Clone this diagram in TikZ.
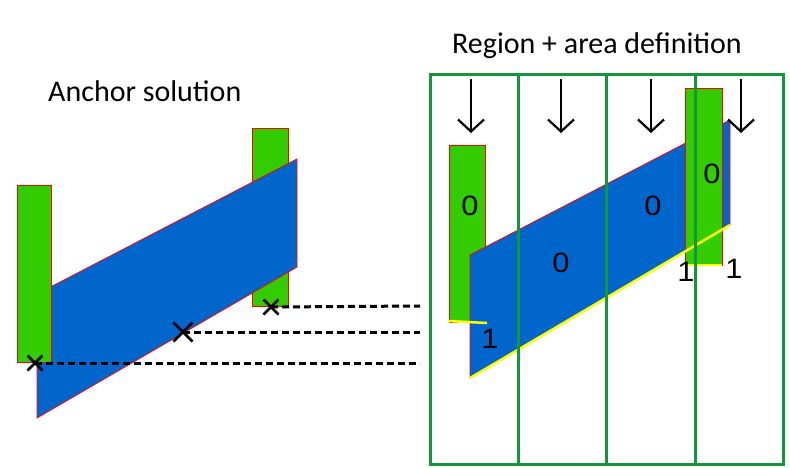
\documentclass[tikz,border=0pt]{standalone}
\usepackage{fontspec}
\setmainfont{Carlito}
\newfontfamily\digitfont[FakeStretch=1.1]{Liberation Sans}
\usetikzlibrary{arrows.meta}
\definecolor{bargreen}{RGB}{51,204,0}
\definecolor{planeblue}{RGB}{0,102,204}
\definecolor{gridgreen}{RGB}{20,150,60}
\definecolor{edgeyellow}{RGB}{255,255,0}
\tikzset{
  bar/.style={fill=bargreen, draw=red, line width=0.8pt},
  plane/.style={fill=planeblue, draw=red, line width=0.8pt},
  grid line/.style={draw=gridgreen, line width=3pt},
  down arrow/.style={draw=black, line width=2.2pt, -{Straight Barb[length=12pt,width=26pt,line width=2.2pt]}},
  xmark/.style={draw=black, line width=2.8pt},
  guide/.style={draw=black, line width=3pt, dash pattern=on 7pt off 4pt},
  yedge/.style={draw=edgeyellow, line width=2.5pt},
  title/.style={font=\fontsize{30}{36}\selectfont, anchor=base west, inner sep=0pt},
  digit/.style={font=\digitfont\fontsize{28}{33}\selectfont, inner sep=0pt}
}
\begin{document}
\begin{tikzpicture}[x=1pt,y=-1pt]
\useasboundingbox (0,0) rectangle (790,467);
% titles
\node[title] (t1) at (48,101) {Anchor solution};
\node[title] (t2) at (452,53) {Region + area definition};

% ---- left: anchor solution ----
\draw[bar] (252,128) rectangle (288,306);
\draw[plane] (37,294) -- (297,159) -- (297,267) -- (37,418) -- cycle;
\draw[bar] (17,185) rectangle (51,362);

\coordinate (x1) at (35,363);
\coordinate (x2) at (183,332);
\coordinate (x3) at (271,307);
\coordinate (e1) at (420,363);
\coordinate (e2) at (420,332);
\coordinate (e3) at (420,306);
\draw[guide] (x1) -- (e1);
\draw[guide] (x2) -- (e2);
\draw[guide] (x3) -- (e3);
\foreach \c/\s in {x1/7.5, x2/9.5, x3/7.5}{
  \draw[xmark] ([shift={(-\s,-\s)}]\c) -- ([shift={(\s,\s)}]\c);
  \draw[xmark] ([shift={(-\s,\s)}]\c) -- ([shift={(\s,-\s)}]\c);
}

% ---- right: region + area definition ----
\draw[bar] (449,145) rectangle (485,322);
\fill[planeblue] (470,255) -- (730,120) -- (730,225) -- (470,378) -- cycle;
\draw[red, line width=0.8pt] (470,378) -- (470,255) -- (730,120) -- (730,225);
\draw[yedge] (448,321) -- (487,323);
\draw[bar] (685,88) rectangle (722,265);
\draw[yedge] (685,265) -- (722,265);
\draw[yedge] (470,378) -- (730,225);

% grid
\draw[grid line] (430,74) rectangle (783,464);
\foreach \gx in {518,606,695}{
  \draw[grid line] (\gx,74) -- (\gx,464);
}
% arrows
\foreach \ax in {471,561,651,741}{
  \draw[down arrow] (\ax,79) -- (\ax,133);
}
% labels
\node[digit] (a) at (470,206) {0};
\node[digit] (b) at (712,174) {0};
\node[digit] (c) at (653,206) {0};
\node[digit] (d) at (561,263) {0};
\node[digit] (e) at (490,339) {1};
\node[digit] (f) at (686,272) {1};
\node[digit] (g) at (734,269) {1};
\end{tikzpicture}
\end{document}
